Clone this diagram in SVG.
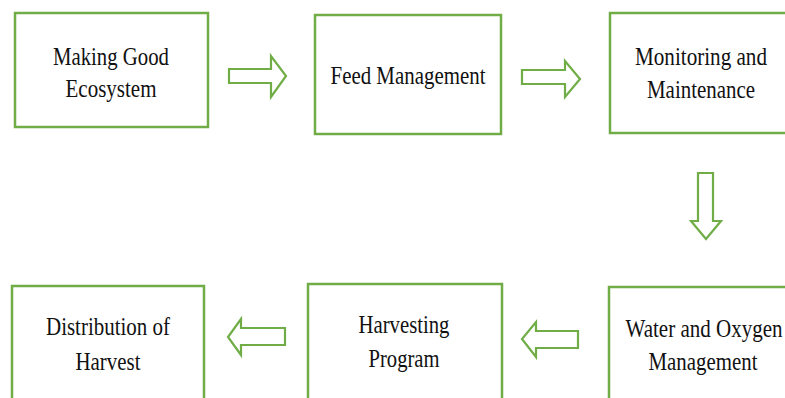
<svg xmlns="http://www.w3.org/2000/svg" width="785" height="398" viewBox="0 0 785 398">
<style>
.box{fill:#fff;stroke:#70AD47;stroke-width:2.5}
.arr{fill:#fff;stroke:#70AD47;stroke-width:2.2;stroke-linejoin:miter}
text{font-family:"Liberation Serif","Times New Roman",serif;font-size:26px;fill:#111;text-anchor:middle}
</style>
<rect width="785" height="398" fill="#fff"/>
<g id="node-ecosystem">
<rect class="box" x="15" y="13" width="193" height="114"/>
<text x="111" y="65" textLength="116" lengthAdjust="spacingAndGlyphs">Making Good</text>
<text x="111" y="97" textLength="91" lengthAdjust="spacingAndGlyphs">Ecosystem</text>
</g>
<g id="node-feed">
<rect class="box" x="315" y="15" width="186" height="119"/>
<text x="408" y="84" textLength="155" lengthAdjust="spacingAndGlyphs">Feed Management</text>
</g>
<g id="node-monitoring">
<rect class="box" x="610" y="13" width="185" height="120"/>
<text x="701" y="65" textLength="132" lengthAdjust="spacingAndGlyphs">Monitoring and</text>
<text x="701" y="98" textLength="108" lengthAdjust="spacingAndGlyphs">Maintenance</text>
</g>
<g id="node-water">
<rect class="box" x="609" y="287" width="190" height="125"/>
<text x="704" y="337" textLength="157" lengthAdjust="spacingAndGlyphs">Water and Oxygen</text>
<text x="703" y="370" textLength="109" lengthAdjust="spacingAndGlyphs">Management</text>
</g>
<g id="node-harvesting">
<rect class="box" x="308" y="284" width="194" height="125"/>
<text x="404" y="333" textLength="91" lengthAdjust="spacingAndGlyphs">Harvesting</text>
<text x="404" y="367" textLength="71" lengthAdjust="spacingAndGlyphs">Program</text>
</g>
<g id="node-distribution">
<rect class="box" x="12" y="286" width="192" height="125"/>
<text x="108" y="335" textLength="124" lengthAdjust="spacingAndGlyphs">Distribution of</text>
<text x="108" y="370" textLength="65" lengthAdjust="spacingAndGlyphs">Harvest</text>
</g>
<g id="connectors">
<polygon class="arr" points="229,69 271,69 271,56 286,76 271,97 271,83 229,83"/>
<polygon class="arr" points="522,70 565,70 565,61 580,79 565,97 565,84 522,84"/>
<polygon class="arr" points="698,173 713,173 713,221 721,221 706,239 691,221 698,221"/>
<polygon class="arr" points="578,331 536,331 536,322 522,339 536,357 536,348 578,348"/>
<polygon class="arr" points="285,328 241,328 241,319 228,337 241,355 241,345 285,345"/>
</g>
</svg>
